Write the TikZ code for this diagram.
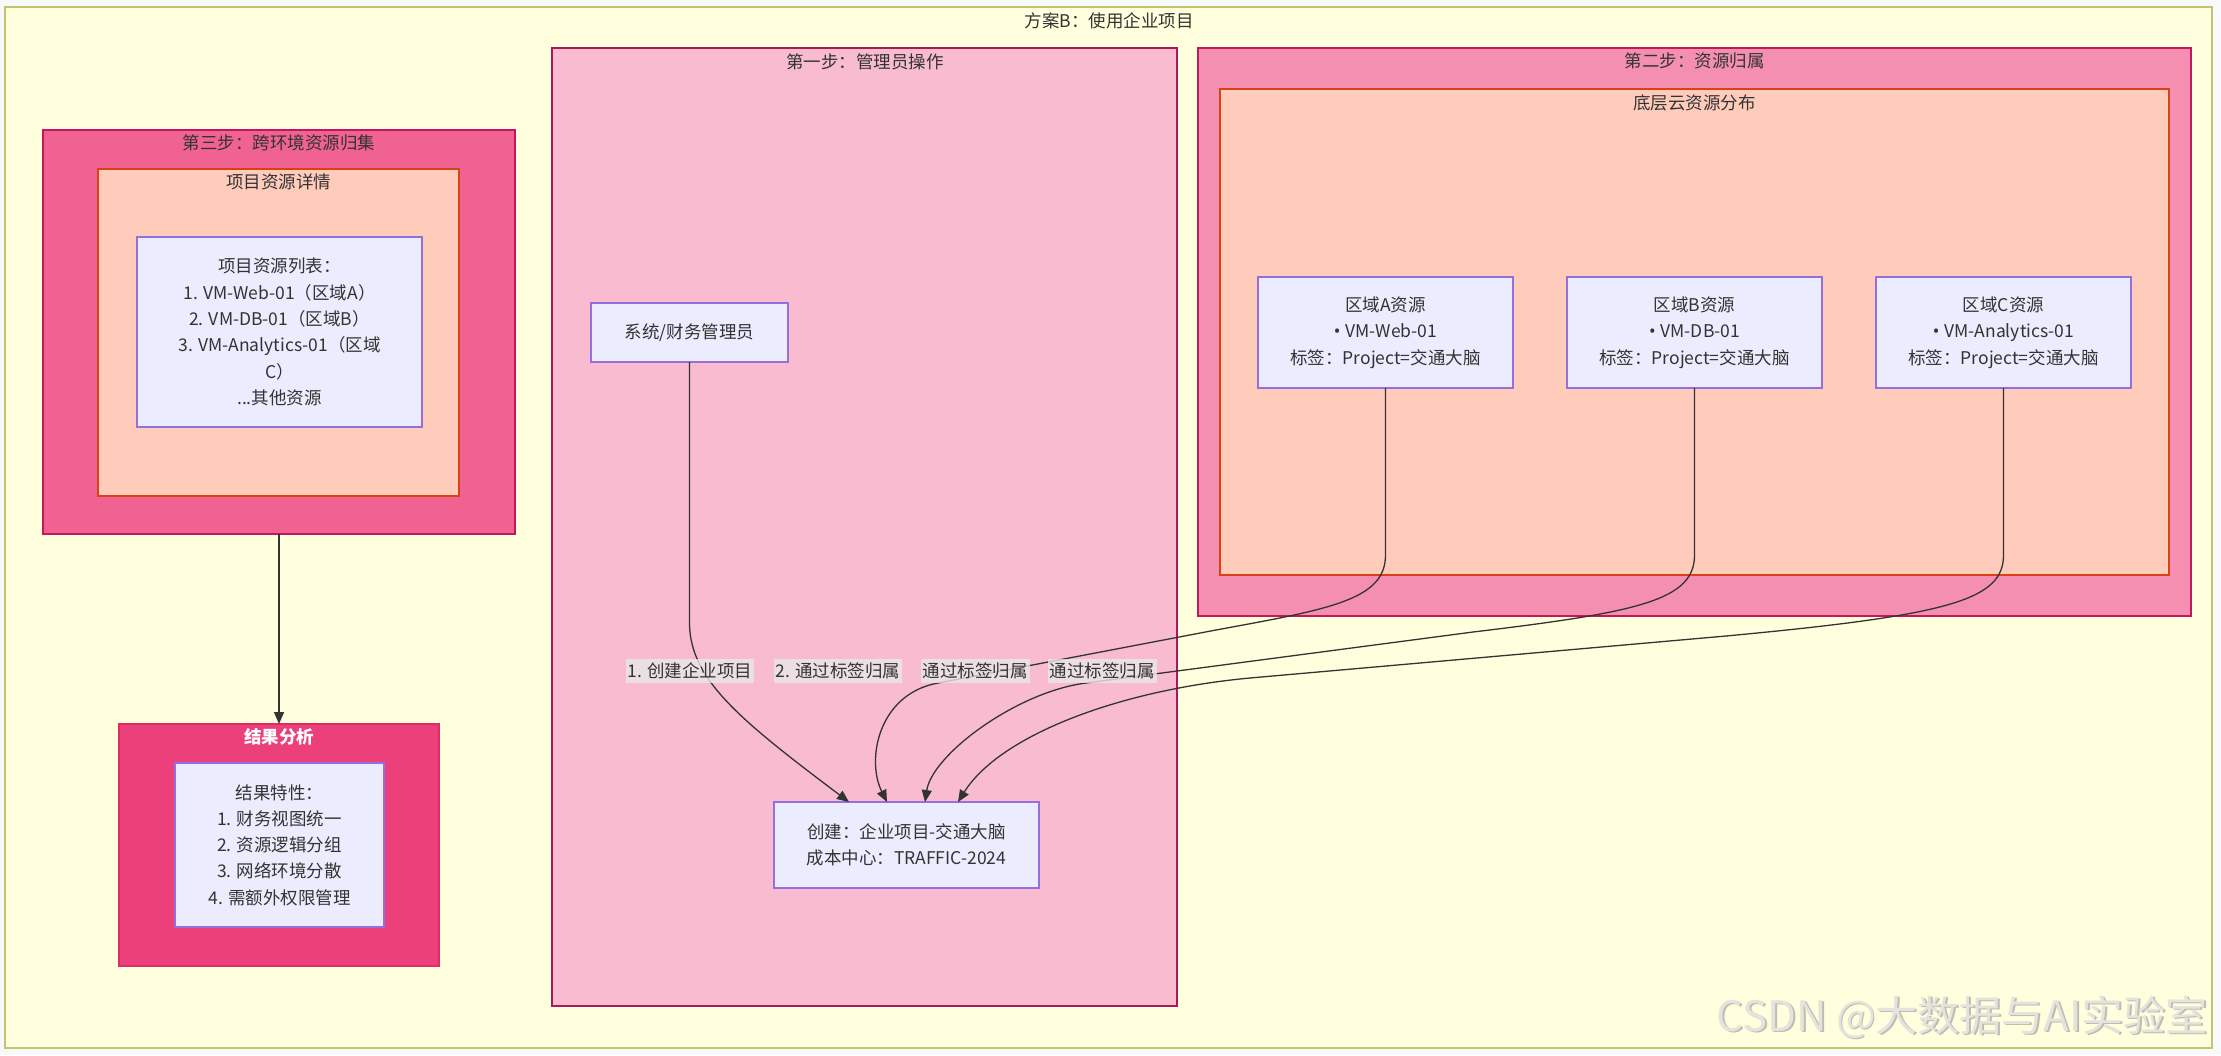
\documentclass[tikz,border=0pt]{standalone}
\usepackage{fontspec}
\setmainfont{Noto Sans CJK SC}
\newfontfamily\bulletfont{Noto Sans}
\usetikzlibrary{arrows.meta,calc}
\definecolor{pagebg}{HTML}{F8F9FA}
\definecolor{outerfill}{HTML}{FFFFDE}
\definecolor{outerdraw}{HTML}{C4C46E}
\definecolor{sonefill}{HTML}{F8BBD0}
\definecolor{sonedraw}{HTML}{A8185A}
\definecolor{stwofill}{HTML}{F48FB1}
\definecolor{stwodraw}{HTML}{C2185B}
\definecolor{sthreefill}{HTML}{F06292}
\definecolor{sthreedraw}{HTML}{C2185B}
\definecolor{resfill}{HTML}{EC407A}
\definecolor{resdraw}{HTML}{DD2C66}
\definecolor{innerfill}{HTML}{FFCCBC}
\definecolor{innerdraw}{HTML}{D84315}
\definecolor{nodefill}{HTML}{ECECFF}
\definecolor{nodedraw}{HTML}{9370DB}
\definecolor{txt}{HTML}{333333}
\definecolor{edgec}{HTML}{333333}
\definecolor{lblbg}{HTML}{E8E8E8}
\definecolor{wm}{HTML}{E4E4DC}
\definecolor{wmshadow}{HTML}{BDBDB5}
\newcommand\dgfont{\fontsize{17.5}{26.3}\selectfont}
\newcommand\bul{{\bulletfont •}\hspace{5pt}}
\tikzset{
  cluster/.style={draw, inner sep=0pt, outer sep=0pt, line width=2pt},
  ttl/.style={text=txt, inner sep=0pt, font=\dgfont},
  nd/.style={draw=nodedraw, fill=nodefill, line width=1.5pt, align=center, text=txt,
    inner sep=0pt, outer sep=0pt, font=\dgfont},
  lbl/.style={fill=lblbg, fill opacity=0.8, text opacity=1, text=txt, inner xsep=2pt,
    inner ysep=4pt, font=\dgfont},
  edge/.style={draw=edgec, line width=1.3pt, -{Triangle[length=12pt,width=10pt]}},
  wmstyle/.style={anchor=east, inner sep=0pt, font=\fontsize{42}{46}\selectfont}
}
\begin{document}
\begin{tikzpicture}[x=1pt,y=-1pt]
\fill[pagebg] (0,0) rectangle (2221,1055);
\useasboundingbox (0,0) rectangle (2221,1055);

% outer cluster
\node[cluster, draw=outerdraw, fill=outerfill, line width=1.5pt, minimum width=2207pt, minimum height=1041pt] (outer) at (1108.5,527.5) {};
\node[ttl] (outerT) at (1109,21) {方案B：使用企业项目};

% step 1
\node[cluster, draw=sonedraw, fill=sonefill, minimum width=625pt, minimum height=958pt] (step1) at (864.5,527) {};
\node[ttl] (step1T) at (865,62) {第一步：管理员操作};

% step 2
\node[cluster, draw=stwodraw, fill=stwofill, minimum width=993pt, minimum height=568pt] (step2) at (1694.5,332) {};
\node[ttl] (step2T) at (1694.5,61) {第二步：资源归属};
\node[cluster, draw=innerdraw, fill=innerfill, line width=1.5pt, minimum width=949pt, minimum height=486pt] (inner2) at (1694.5,332) {};
\node[ttl] (inner2T) at (1694.5,103) {底层云资源分布};

% step 3
\node[cluster, draw=sthreedraw, fill=sthreefill, minimum width=472pt, minimum height=404pt] (step3) at (279,332) {};
\node[ttl] (step3T) at (279,143) {第三步：跨环境资源归集};
\node[cluster, draw=innerdraw, fill=innerfill, line width=1.5pt, minimum width=361pt, minimum height=327pt] (inner3) at (278.5,332.5) {};
\node[ttl] (inner3T) at (278.5,182) {项目资源详情};

% result
\node[cluster, draw=resdraw, fill=resfill, minimum width=320pt, minimum height=242pt] (result) at (279,845) {};
\node[ttl, text=white, font=\dgfont\bfseries] (resultT) at (279,737) {结果分析};

% nodes
\node[nd, minimum width=285pt, minimum height=190pt] (list) at (279.5,332) {项目资源列表：\\1. VM-Web-01（区域A）\\2. VM-DB-01（区域B）\\3. VM-Analytics-01（区域\\C）\\...其他资源};
\node[nd, minimum width=209pt, minimum height=164pt] (resnode) at (279.5,845) {结果特性：\\1. 财务视图统一\\2. 资源逻辑分组\\3. 网络环境分散\\4. 需额外权限管理};
\node[nd, minimum width=197pt, minimum height=59pt] (admin) at (689.5,332.5) {系统/财务管理员};
\node[nd, minimum width=265pt, minimum height=86pt] (create) at (906.5,845) {创建：企业项目-交通大脑\\成本中心：TRAFFIC-2024};
\node[nd, minimum width=255pt, minimum height=111pt] (regA) at (1385.5,332.5) {区域A资源\\\bul VM-Web-01\\标签：Project=交通大脑};
\node[nd, minimum width=255pt, minimum height=111pt] (regB) at (1694.5,332.5) {区域B资源\\\bul VM-DB-01\\标签：Project=交通大脑};
\node[nd, minimum width=255pt, minimum height=111pt] (regC) at (2003.5,332.5) {区域C资源\\\bul VM-Analytics-01\\标签：Project=交通大脑};

% arrow targets on create
\coordinate (t1) at ($(create.north west)+(75,0)$);
\coordinate (t2) at ($(create.north west)+(113,0)$);
\coordinate (t3) at ($(create.north west)+(151,0)$);
\coordinate (t4) at ($(create.north west)+(184,0)$);

% edges
\draw[edge] (step3.south) -- (result.north);
\draw[edge] (admin.south) -- (689.5,625) .. controls (691,680) and (740,720) .. (t1);
\draw[edge] (regA.south) -- (1385.5,555) .. controls (1385.5,600) and (1330,609) .. (1216,630)
  -- (938,683) .. controls (878,694) and (866,760) .. (t2);
\draw[edge] (regB.south) -- (1694.5,555) .. controls (1694.5,600) and (1640,612) .. (1473,632)
  -- (1086,683) .. controls (1016,692) and (932,755) .. (t3);
\draw[edge] (regC.south) -- (2003.5,555) .. controls (2003.5,600) and (1950,615) .. (1726,636)
  -- (1250,678) .. controls (1120,690) and (1000,735) .. (t4);

% edge labels
\node[lbl] (l1) at (690,671) {1. 创建企业项目};
\node[lbl] (l2) at (838,671) {2. 通过标签归属};
\node[lbl] (l3) at (975,671) {通过标签归属};
\node[lbl] (l4) at (1102,671) {通过标签归属};

% watermark
\node[wmstyle, text=wmshadow] (wmarkshadow) at (2209.5,1018.5) {CSDN @大数据与AI实验室};
\node[wmstyle, text=wm] (wmark) at (2208,1017) {CSDN @大数据与AI实验室};
\end{tikzpicture}
\end{document}
